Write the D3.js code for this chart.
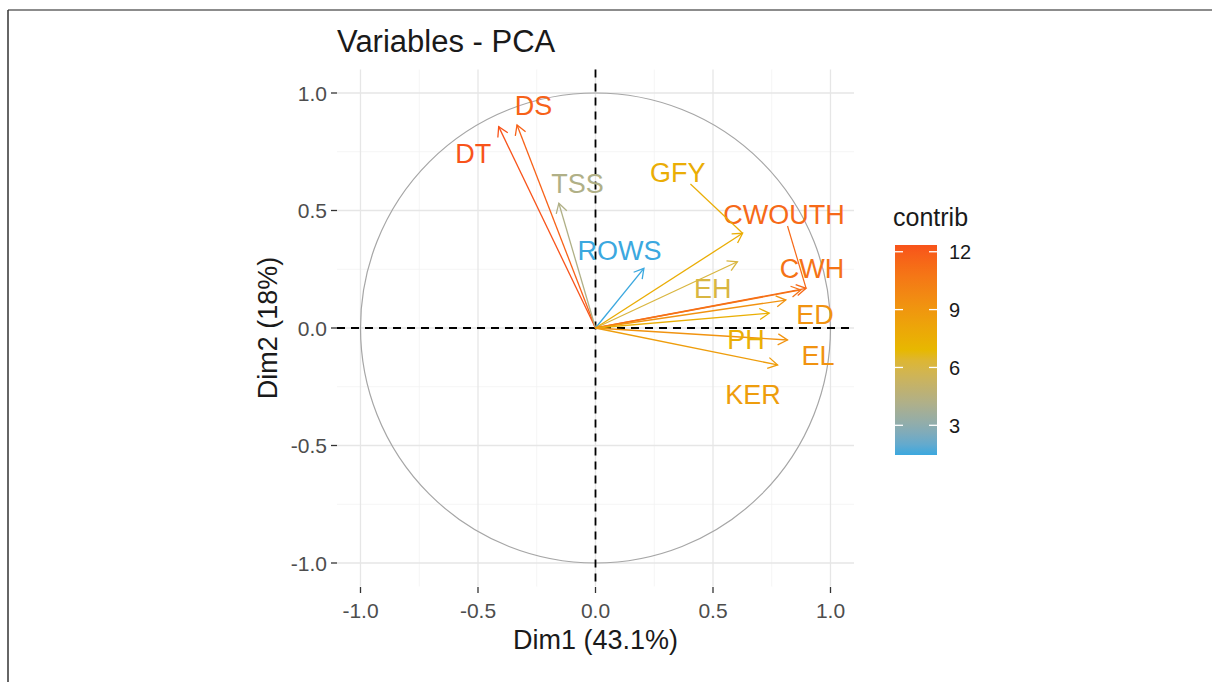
<!DOCTYPE html>
<html>
<head>
<meta charset="utf-8">
<script src="https://cdn.jsdelivr.net/npm/d3@7"></script>
<style>
  body { margin: 0; background: #fff; }
  svg { font-family: "Liberation Sans", Arial, sans-serif; }
</style>
</head>
<body>
<svg id="chart" width="1212" height="682"></svg>
<script>
// variables and their coordinates on Dim1 / Dim2
const vars = ["DT", "DS", "TSS", "ROWS", "GFY", "EH", "CWOUTH", "CWH", "ED", "PH", "EL", "KER"];
const dim1 = [-0.412, -0.334, -0.156, 0.206, 0.626, 0.604, 0.896, 0.874, 0.810, 0.739, 0.817, 0.775];
const dim2 = [0.857, 0.864, 0.531, 0.254, 0.403, 0.282, 0.169, 0.162, 0.119, 0.063, -0.051, -0.157];
const contrib = [12.35, 11.7, 4.2, 1.46, 7.6, 6.1, 11.4, 10.9, 9.2, 7.5, 9.2, 8.6];
// label positions (repelled), data units
const labelX = [-0.520, -0.264, -0.077, 0.102, 0.350, 0.499, 0.802, 0.921, 0.934, 0.640, 0.947, 0.670];
const labelY = [0.745, 0.949, 0.617, 0.332, 0.664, 0.170, 0.485, 0.255, 0.060, -0.047, -0.115, -0.281];

const majorTicks = [-1.0, -0.5, 0.0, 0.5, 1.0];
const minorTicks = [-0.75, -0.25, 0.25, 0.75];
const legendTicks = [3, 6, 9, 12];
const gradCols = ["#3BA8DF", "#E7B800", "#F8531A"];

const svg = d3.select("#chart");

// outer frame
svg.append("line").attr("x1", 8).attr("x2", 1212).attr("y1", 10).attr("y2", 10)
    .attr("stroke", "#666").attr("stroke-width", 1.5);
svg.append("line").attr("x1", 8).attr("x2", 8).attr("y1", 10).attr("y2", 682)
    .attr("stroke", "#333").attr("stroke-width", 1.5);

const x = d3.scaleLinear().domain([-1.1, 1.1]).range([337, 854]);
const y = d3.scaleLinear().domain([-1.1, 1.1]).range([586.5, 69.5]);

const cmin = d3.min(contrib), cmax = d3.max(contrib);
const color = d3.scaleLinear()
    .domain([cmin, (cmin + cmax) / 2, cmax])
    .range(gradCols)
    .interpolate(d3.interpolateLab);

const grid = svg.append("g");
grid.selectAll(".minx").data(minorTicks).join("line")
    .attr("x1", d => x(d)).attr("x2", d => x(d))
    .attr("y1", y.range()[1]).attr("y2", y.range()[0])
    .attr("stroke", "#F2F2F2").attr("stroke-width", 0.8);
grid.selectAll(".miny").data(minorTicks).join("line")
    .attr("y1", d => y(d)).attr("y2", d => y(d))
    .attr("x1", x.range()[0]).attr("x2", x.range()[1])
    .attr("stroke", "#F2F2F2").attr("stroke-width", 0.8);
grid.selectAll(".majx").data(majorTicks).join("line")
    .attr("x1", d => x(d)).attr("x2", d => x(d))
    .attr("y1", y.range()[1]).attr("y2", y.range()[0])
    .attr("stroke", "#E6E6E6").attr("stroke-width", 1.3);
grid.selectAll(".majy").data(majorTicks).join("line")
    .attr("y1", d => y(d)).attr("y2", d => y(d))
    .attr("x1", x.range()[0]).attr("x2", x.range()[1])
    .attr("stroke", "#E6E6E6").attr("stroke-width", 1.3);

// correlation circle
svg.append("circle")
    .attr("cx", x(0)).attr("cy", y(0))
    .attr("r", x(1) - x(0))
    .attr("fill", "none").attr("stroke", "#A6A6A6").attr("stroke-width", 1.2);

// zero lines
svg.append("line")
    .attr("x1", x.range()[0]).attr("x2", x.range()[1])
    .attr("y1", y(0)).attr("y2", y(0))
    .attr("stroke", "#000").attr("stroke-width", 1.8).attr("stroke-dasharray", "8,6");
svg.append("line")
    .attr("y1", y.range()[1]).attr("y2", y.range()[0])
    .attr("x1", x(0)).attr("x2", x(0))
    .attr("stroke", "#000").attr("stroke-width", 1.8).attr("stroke-dasharray", "8,6");

// axes
const fmt = d => d3.format(".1f")(d).replace("\u2212", "-");
const xAxis = svg.append("g");
xAxis.selectAll("line").data(majorTicks).join("line")
    .attr("x1", d => x(d)).attr("x2", d => x(d))
    .attr("y1", 587).attr("y2", 593)
    .attr("stroke", "#333").attr("stroke-width", 1.3);
xAxis.selectAll("text").data(majorTicks).join("text")
    .attr("x", d => x(d)).attr("y", 618)
    .attr("text-anchor", "middle")
    .attr("font-size", 21).attr("fill", "#4D4D4D")
    .text(d => fmt(d));

const yAxis = svg.append("g");
yAxis.selectAll("line").data(majorTicks).join("line")
    .attr("x1", 331).attr("x2", 337)
    .attr("y1", d => y(d)).attr("y2", d => y(d))
    .attr("stroke", "#333").attr("stroke-width", 1.3);
yAxis.selectAll("text").data(majorTicks).join("text")
    .attr("x", 327).attr("y", d => y(d))
    .attr("dy", "0.36em")
    .attr("text-anchor", "end")
    .attr("font-size", 21).attr("fill", "#4D4D4D")
    .text(d => fmt(d));

svg.append("text")
    .attr("x", x(0)).attr("y", 649)
    .attr("text-anchor", "middle")
    .attr("font-size", 27).attr("fill", "#1a1a1a")
    .text("Dim1 (43.1%)");
svg.append("text")
    .attr("transform", `translate(277,${y(0)}) rotate(-90)`)
    .attr("text-anchor", "middle")
    .attr("font-size", 27).attr("fill", "#1a1a1a")
    .text("Dim2 (18%)");

svg.append("text")
    .attr("x", 337).attr("y", 52)
    .attr("font-size", 31).attr("fill", "#1a1a1a")
    .text("Variables - PCA");

// arrows
const idx = d3.range(vars.length);
const arrows = svg.append("g");
arrows.selectAll("line.shaft").data(idx).join("line")
    .attr("class", "shaft")
    .attr("x1", x(0)).attr("y1", y(0))
    .attr("x2", i => x(dim1[i])).attr("y2", i => y(dim2[i]))
    .attr("stroke", i => color(contrib[i])).attr("stroke-width", 1.3);

const headLen = 11, headAng = Math.PI / 6;
arrows.selectAll("path.head").data(idx).join("path")
    .attr("class", "head")
    .attr("d", i => {
        const tx = x(dim1[i]), ty = y(dim2[i]);
        const a = Math.atan2(ty - y(0), tx - x(0));
        const p1 = [tx - headLen * Math.cos(a - headAng), ty - headLen * Math.sin(a - headAng)];
        const p2 = [tx - headLen * Math.cos(a + headAng), ty - headLen * Math.sin(a + headAng)];
        return `M${p1}L${tx},${ty}L${p2}`;
    })
    .attr("fill", "none")
    .attr("stroke", i => color(contrib[i])).attr("stroke-width", 1.3);

// labels
const labels = svg.append("g");
const texts = labels.selectAll("text").data(idx).join("text")
    .attr("x", i => x(labelX[i])).attr("y", i => y(labelY[i]))
    .attr("dy", "0.36em")
    .attr("text-anchor", "middle")
    .attr("font-size", 27)
    .attr("fill", i => color(contrib[i]))
    .text(i => vars[i]);

// segments from label box to arrow tip when far away
texts.each(function (i) {
    const b = this.getBBox();
    const cx = x(labelX[i]), cy = y(labelY[i]);
    const tx = x(dim1[i]), ty = y(dim2[i]);
    const dx = tx - cx, dy = ty - cy;
    const hw = b.width / 2 + 2, hh = 12;
    const t = Math.min(Math.abs(dx) > 0 ? hw / Math.abs(dx) : Infinity, Math.abs(dy) > 0 ? hh / Math.abs(dy) : Infinity);
    if (t >= 1) return;
    const sx = cx + dx * t, sy = cy + dy * t;
    if (Math.hypot(tx - sx, ty - sy) < 40) return;
    labels.append("line")
        .attr("x1", sx).attr("y1", sy).attr("x2", tx).attr("y2", ty)
        .attr("stroke", color(contrib[i])).attr("stroke-width", 1.2);
});

// legend
const barX = 895, barW = 42, barTop = 245, barH = 210;
const ly = d3.scaleLinear().domain([cmin, cmax]).range([barTop + barH, barTop]);
const defs = svg.append("defs");
const grad = defs.append("linearGradient").attr("id", "cgrad")
    .attr("x1", 0).attr("x2", 0).attr("y1", 1).attr("y2", 0);
grad.selectAll("stop").data(d3.range(0, 1.0001, 0.05)).join("stop")
    .attr("offset", d => d)
    .attr("stop-color", d => color(cmin + d * (cmax - cmin)));

svg.append("text")
    .attr("x", barX - 2).attr("y", 226)
    .attr("font-size", 25).attr("fill", "#1a1a1a")
    .text("contrib");
svg.append("rect")
    .attr("x", barX).attr("y", barTop).attr("width", barW).attr("height", barH)
    .attr("fill", "url(#cgrad)");
const lt = svg.append("g");
lt.selectAll("line.l").data(legendTicks).join("line")
    .attr("class", "l")
    .attr("x1", barX).attr("x2", barX + 8)
    .attr("y1", d => ly(d)).attr("y2", d => ly(d))
    .attr("stroke", "#fff").attr("stroke-width", 1.3);
lt.selectAll("line.r").data(legendTicks).join("line")
    .attr("class", "r")
    .attr("x1", barX + barW - 8).attr("x2", barX + barW)
    .attr("y1", d => ly(d)).attr("y2", d => ly(d))
    .attr("stroke", "#fff").attr("stroke-width", 1.3);
lt.selectAll("text").data(legendTicks).join("text")
    .attr("x", barX + barW + 12).attr("y", d => ly(d))
    .attr("dy", "0.36em")
    .attr("font-size", 20).attr("fill", "#1a1a1a")
    .text(d => d);
</script>
</body>
</html>
